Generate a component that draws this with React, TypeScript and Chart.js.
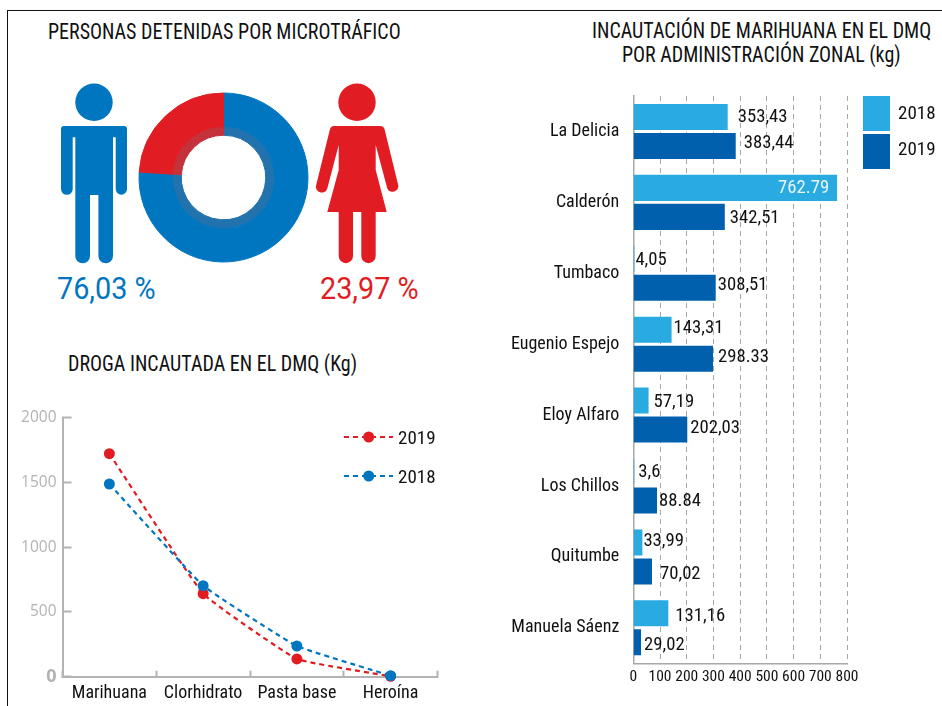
import React, { useEffect, useRef } from "react";
import { Chart, registerables } from "chart.js";

Chart.register(...registerables);

const RED = "#e11d23";
const BLUE = "#0076c0";
const LIGHT = "#29abe2";
const DARK = "#0060ae";
const INK = "#111111";
const AXIS = "#b3b3b3";
const COND = "'Roboto Condensed', Roboto, sans-serif";

// Doughnut
const genderLabels = ["Hombres", "Mujeres"];
const genderShares = [76.03, 23.97];

// Line chart
const drugCategories = ["Marihuana", "Clorhidrato", "Pasta base", "Heroína"];
const drugs2018 = [1488, 703, 237, 8];
const drugs2019 = [1722, 641, 137, 3];
const drugTicks = [0, 500, 1000, 1500, 2000];

// Bar chart
const zones = ["La Delicia", "Calderón", "Tumbaco", "Eugenio Espejo", "Eloy Alfaro", "Los Chillos", "Quitumbe", "Manuela Sáenz"];
const seized2018 = [353.43, 762.79, 4.05, 143.31, 57.19, 3.6, 33.99, 131.16];
const seized2019 = [383.44, 342.51, 308.51, 298.33, 202.03, 88.84, 70.02, 29.02];
const labels2018 = ["353,43", "762.79", "4,05", "143,31", "57,19", "3,6", "33,99", "131,16"];
const labels2019 = ["383,44", "342,51", "308,51", "298.33", "202,03", "88.84", "70,02", "29,02"];
const nudgeX2018 = [10, -59, 1, 2, 5, 4, 1, 7];
const nudgeX2019 = [8, 5, 2, 5, 3, 2, 8, 3];
const nudgeY2018 = [0, 0, 2, -1, 2, 1, -1, 3];
const nudgeY2019 = [-3, 1, -2, -1, -1, 1, 3, 3];

const barValueLabels = {
  id: "barValueLabels",
  afterDatasetsDraw(chart: any) {
    const { ctx } = chart;
    const sets = [
      { t: labels2018, x: nudgeX2018, y: nudgeY2018 },
      { t: labels2019, x: nudgeX2019, y: nudgeY2019 },
    ];
    ctx.save();
    ctx.font = `400 18.7px ${COND}`;
    ctx.textAlign = "left";
    ctx.textBaseline = "middle";
    sets.forEach((s, d) => {
      chart.getDatasetMeta(d).data.forEach((bar: any, i: number) => {
        ctx.fillStyle = s.x[i] < 0 ? "#e8f6fc" : INK;
        ctx.fillText(s.t[i], bar.x + s.x[i], bar.y + s.y[i]);
      });
    });
    ctx.restore();
  },
};

const barLegend = {
  id: "barLegend",
  afterDraw(chart: any) {
    const { ctx } = chart;
    ctx.save();
    ctx.font = `400 19px ${COND}`;
    ctx.textBaseline = "middle";
    chart.data.datasets.forEach((ds: any, i: number) => {
      const top = 16 + i * 38;
      ctx.fillStyle = ds.backgroundColor;
      ctx.fillRect(363, top, 27, 35);
      ctx.fillStyle = INK;
      ctx.fillText(ds.label, 398, 34 + i * 36);
    });
    ctx.restore();
  },
};

const lineLegend = {
  id: "lineLegend",
  afterDraw(chart: any) {
    const { ctx } = chart;
    ctx.save();
    ctx.font = `400 19px ${COND}`;
    ctx.textBaseline = "middle";
    [1, 0].forEach((d, row) => {
      const ds = chart.data.datasets[d];
      const y = 37 + row * 39;
      ctx.strokeStyle = ds.borderColor;
      ctx.lineWidth = 2;
      ctx.setLineDash([5, 4]);
      ctx.beginPath();
      ctx.moveTo(344, y);
      ctx.lineTo(393, y);
      ctx.stroke();
      ctx.setLineDash([]);
      ctx.fillStyle = ds.borderColor;
      ctx.beginPath();
      ctx.arc(368.7, y, 5.5, 0, Math.PI * 2);
      ctx.fill();
      ctx.fillStyle = INK;
      ctx.fillText(ds.label, 398, y + 2);
    });
    ctx.restore();
  },
};

function Figures() {
  return (
    <svg width={942} height={706} style={{ position: "absolute", left: 0, top: 0 }}>
      <circle cx={94} cy={102.3} r={18.7} fill={BLUE} />
      <path
        fill={BLUE}
        d="M64 126H124Q127 126 127 129V189A5.65 5.65 0 0 1 115.7 189V137.3H113V256A7.3 7.3 0 0 1 98.4 256V195H90V256A7.35 7.35 0 0 1 75.3 256V137.3H72.7V189A5.85 5.85 0 0 1 61 189V129Q61 126 64 126Z"
      />
      <circle cx={357} cy={102.3} r={18.7} fill={RED} />
      <path
        fill={RED}
        d="M334 126H380Q383.5 126 384.5 129L398.2 185A5.8 5.8 0 0 1 387.3 188.5L375.7 145V170L386.7 212H375.7V256A7.2 7.2 0 0 1 361.3 256V212H353V256A7.15 7.15 0 0 1 338.7 256V212H327.3L338.7 170V145L327.3 188.5A5.8 5.8 0 0 1 316.2 185L330 129Q331 126 334 126Z"
      />
    </svg>
  );
}

function Label(p: { x: number; y: number; size: number; color?: string; k?: number; children: string; weight?: number; family?: string }) {
  return (
    <div
      style={{
        position: "absolute",
        left: p.x,
        top: p.y,
        fontFamily: p.family ?? "Roboto, sans-serif",
        fontSize: p.size,
        fontWeight: p.weight ?? 400,
        lineHeight: 1,
        whiteSpace: "nowrap",
        color: p.color ?? INK,
        transform: `scaleX(${p.k ?? 1})`,
        transformOrigin: "left top",
      }}
    >
      {p.children}
    </div>
  );
}

export default function App() {
  const donutRef = useRef<HTMLCanvasElement>(null);
  const lineRef = useRef<HTMLCanvasElement>(null);
  const barRef = useRef<HTMLCanvasElement>(null);

  useEffect(() => {
    const donut = new Chart(donutRef.current!, {
      type: "doughnut",
      data: {
        labels: genderLabels,
        datasets: [
          { data: genderShares, backgroundColor: [BLUE, RED], borderWidth: 1, borderColor: [BLUE, RED], weight: 34 } as any,
          { data: genderShares, backgroundColor: ["#2272ad", "#c4323b"], borderWidth: 1, borderColor: ["#2272ad", "#c4323b"], weight: 9 } as any,
        ],
      },
      options: {
        responsive: false,
        animation: false,
        cutout: "50%",
        layout: { padding: 5.5 },
        plugins: { legend: { display: false }, tooltip: { enabled: false } },
      },
    });

    const line = new Chart(lineRef.current!, {
      type: "line",
      data: {
        labels: drugCategories,
        datasets: [
          { label: "2018", data: drugs2018, borderColor: BLUE, backgroundColor: BLUE, borderDash: [5, 4], borderWidth: 2.2, pointRadius: 5.5, pointBackgroundColor: BLUE, pointBorderWidth: 0, tension: 0.1, clip: false } as any,
          { label: "2019", data: drugs2019, borderColor: RED, backgroundColor: RED, borderDash: [5, 4], borderWidth: 2.2, pointRadius: 5.5, pointBackgroundColor: RED, pointBorderWidth: 0, tension: 0.1, clip: false } as any,
        ],
      },
      options: {
        responsive: false,
        animation: false,
        layout: { padding: { top: 17.7, right: 22.5, left: 0, bottom: 0 } },
        plugins: { legend: { display: false }, tooltip: { enabled: false } },
        scales: {
          x: {
            offset: true,
            afterFit(s: any) { s.height = 29.3; s.paddingLeft = 0; s.paddingRight = 0; },
            grid: { offset: true, drawOnChartArea: false, drawTicks: true, tickLength: -6, tickColor: AXIS, tickWidth: 2 },
            border: { color: AXIS, width: 2 },
            ticks: { color: INK, padding: 12, font: { family: COND, size: 18 }, maxRotation: 0 },
          },
          y: {
            min: 0,
            max: 2000,
            afterFit(s: any) { s.width = 62.5; s.paddingTop = 0; s.paddingBottom = 0; },
            afterBuildTicks(s: any) { s.ticks = drugTicks.map((value) => ({ value })); },
            grid: { drawOnChartArea: false, drawTicks: true, tickLength: -9, tickColor: AXIS, tickWidth: 2 },
            border: { color: AXIS, width: 2 },
            ticks: {
              color: AXIS,
              padding: 15,
              callback: (v: any) => String(v),
              font: (c: any) => ({ family: "'Open Sans', sans-serif", size: c.tick && c.tick.value === 0 ? 18 : 15.5, weight: c.tick && c.tick.value === 0 ? "bold" : "normal" }),
            },
          },
        },
      } as any,
      plugins: [lineLegend],
    });

    const bar = new Chart(barRef.current!, {
      type: "bar",
      data: {
        labels: zones,
        datasets: [
          { label: "2018", data: seized2018, backgroundColor: LIGHT, barPercentage: 0.897, categoryPercentage: 0.818 } as any,
          { label: "2019", data: seized2019, backgroundColor: DARK, barPercentage: 0.897, categoryPercentage: 0.818 } as any,
        ],
      },
      options: {
        indexAxis: "y",
        responsive: false,
        animation: false,
        layout: { padding: { top: 16, right: 95, left: 0, bottom: 0 } },
        plugins: { legend: { display: false }, tooltip: { enabled: false } },
        scales: {
          x: {
            min: 0,
            max: 800,
            afterFit(s: any) { s.height = 42.7; s.paddingLeft = 0; s.paddingRight = 0; },
            grid: { color: "#a8a8a8", lineWidth: 1, drawTicks: false },
            border: { color: "#a8a8a8", width: 1.5, dash: [5, 4] },
            ticks: { stepSize: 100, color: INK, padding: 5, font: { family: COND, size: 15.5 }, maxRotation: 0, autoSkip: false },
          },
          y: {
            afterFit(s: any) { s.width = 133.3; s.paddingTop = 0; s.paddingBottom = 0; },
            grid: { display: false, drawTicks: false },
            border: { color: "#a8a8a8", width: 1.5 },
            ticks: { color: INK, padding: 14, font: { family: COND, size: 18 }, autoSkip: false },
          },
        },
      } as any,
      plugins: [barValueLabels, barLegend],
    });

    return () => {
      donut.destroy();
      line.destroy();
      bar.destroy();
    };
  }, []);

  return (
    <div style={{ position: "absolute", left: 0, top: 0, width: 942, height: 706, overflow: "hidden", background: "#fff" }}>
      <div style={{ position: "absolute", left: 7, top: 10, right: 0, height: 1, background: "#111" }} />
      <div style={{ position: "absolute", left: 7, top: 10, bottom: 0, width: 1, background: "#111" }} />
      <Figures />
      <canvas ref={donutRef} width={181} height={181} style={{ position: "absolute", left: 133, top: 87 }} />
      <canvas ref={lineRef} width={460} height={306} style={{ position: "absolute", left: 0, top: 400 }} />
      <canvas ref={barRef} width={442} height={626} style={{ position: "absolute", left: 500, top: 80 }} />
      <Label x={48} y={21} size={21.5} k={0.93} family={COND}>PERSONAS DETENIDAS POR MICROTRÁFICO</Label>
      <Label x={68} y={353} size={21.5} k={0.93} family={COND}>DROGA INCAUTADA EN EL DMQ (Kg)</Label>
      <Label x={592} y={20} size={21.5} k={0.93} family={COND}>INCAUTACIÓN DE MARIHUANA EN EL DMQ</Label>
      <Label x={622} y={44} size={21.5} k={0.93} family={COND}>POR ADMINISTRACIÓN ZONAL (kg)</Label>
      <Label x={57} y={272} size={32} color={BLUE} k={0.9}>76,03 %</Label>
      <Label x={320} y={272} size={32} color={RED} k={0.9}>23,97 %</Label>
    </div>
  );
}
